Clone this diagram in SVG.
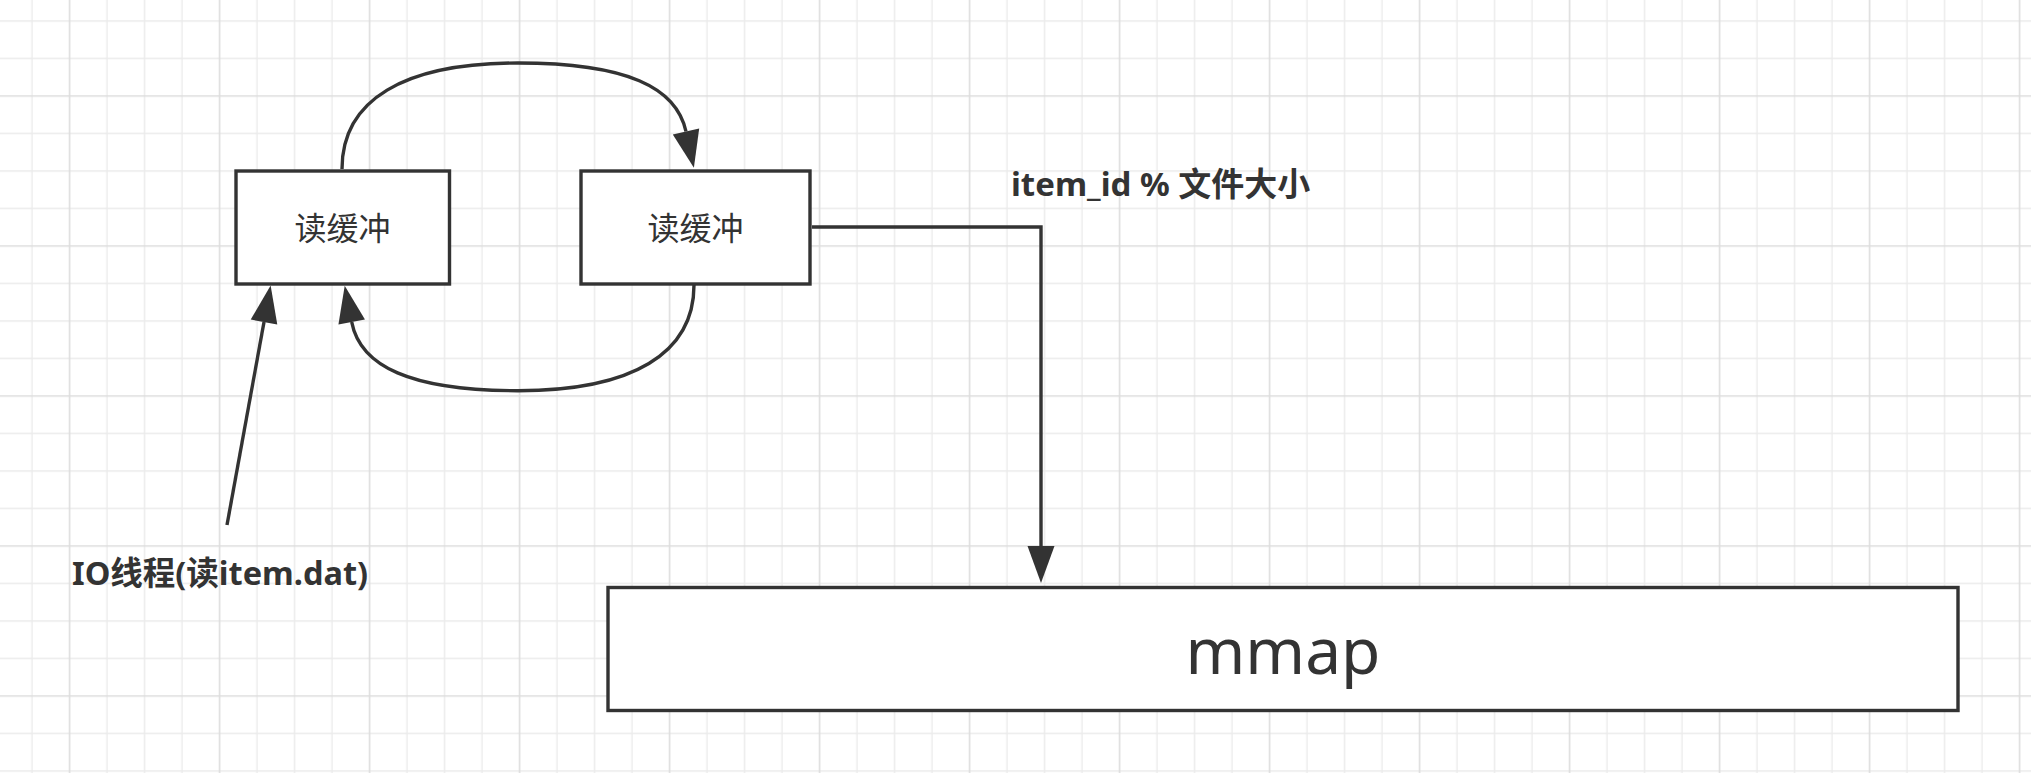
<svg xmlns="http://www.w3.org/2000/svg" width="2031" height="773" viewBox="0 0 2031 773">
  <style>
    .box { fill: #ffffff; stroke: #333333; stroke-width: 3.4; }
    .edge { fill: none; stroke: #333333; stroke-width: 3.4; }
    .node-label { font-family: "Noto Sans CJK SC", "Noto Sans", sans-serif; font-size: 32px; fill: #333333; }
    .bold-label { font-family: "Noto Sans", "Noto Sans CJK SC", sans-serif; font-weight: bold; fill: #333333; }
    .big-label { font-family: "Noto Sans", "Open Sans", sans-serif; font-size: 64px; fill: #333333; }
    .minor { stroke: #ebebeb; stroke-width: 1.4; }
    .major { stroke: #dddddd; stroke-width: 1.6; }
  </style>
  <defs>
    <pattern id="grid" patternUnits="userSpaceOnUse" x="50.75" y="77.25" width="150" height="150">
      <line class="minor" x1="56.25" y1="0" x2="56.25" y2="150"/>
      <line class="minor" x1="93.75" y1="0" x2="93.75" y2="150"/>
      <line class="minor" x1="131.25" y1="0" x2="131.25" y2="150"/>
      <line class="minor" x1="0" y1="56.25" x2="150" y2="56.25"/>
      <line class="minor" x1="0" y1="93.75" x2="150" y2="93.75"/>
      <line class="minor" x1="0" y1="131.25" x2="150" y2="131.25"/>
      <line class="major" x1="18.75" y1="0" x2="18.75" y2="150"/>
      <line class="major" x1="0" y1="18.75" x2="150" y2="18.75"/>
    </pattern>
    <marker id="arrow" markerUnits="userSpaceOnUse" markerWidth="38" markerHeight="28" refX="0" refY="13.5" orient="auto" overflow="visible">
      <path d="M0,0 L37,13.5 L0,27 Z" fill="#333333" stroke="none"/>
    </marker>
  </defs>

  <rect x="0" y="0" width="2031" height="773" fill="#ffffff"/>
  <rect x="0" y="0" width="2031" height="773" fill="url(#grid)"/>

  <g id="connectors">
    <path class="edge" d="M342,169 C342,100 403.6,63 518,63 C627,63 676.4,87.5 686,131.5" marker-end="url(#arrow)"/>
    <path class="edge" d="M694,285 C694,353.4 632.4,390.7 518,390.7 C410,390.7 360.2,366.2 351.7,322" marker-end="url(#arrow)"/>
    <path class="edge" d="M227,525 L264,322" marker-end="url(#arrow)"/>
    <path class="edge" d="M812,227 L1041,227 L1041,546" marker-end="url(#arrow)"/>
  </g>

  <g id="buffer1">
    <rect class="box" x="236" y="171" width="213.5" height="113"/>
    <text class="node-label" x="342.5" y="240" text-anchor="middle">读缓冲</text>
  </g>

  <g id="buffer2">
    <rect class="box" x="581" y="171" width="229" height="113"/>
    <text class="node-label" x="695.5" y="240" text-anchor="middle">读缓冲</text>
  </g>

  <g id="mmap">
    <rect class="box" x="608" y="587.5" width="1350" height="123"/>
    <text class="big-label" x="1283" y="674" text-anchor="middle">mmap</text>
  </g>

  <g id="label-item">
    <text class="bold-label" x="1011" y="196" font-size="33">item_id % 文件大小</text>
  </g>

  <g id="label-io">
    <text class="bold-label" x="72" y="585" font-size="32.5">IO线程(读item.dat)</text>
  </g>
</svg>
